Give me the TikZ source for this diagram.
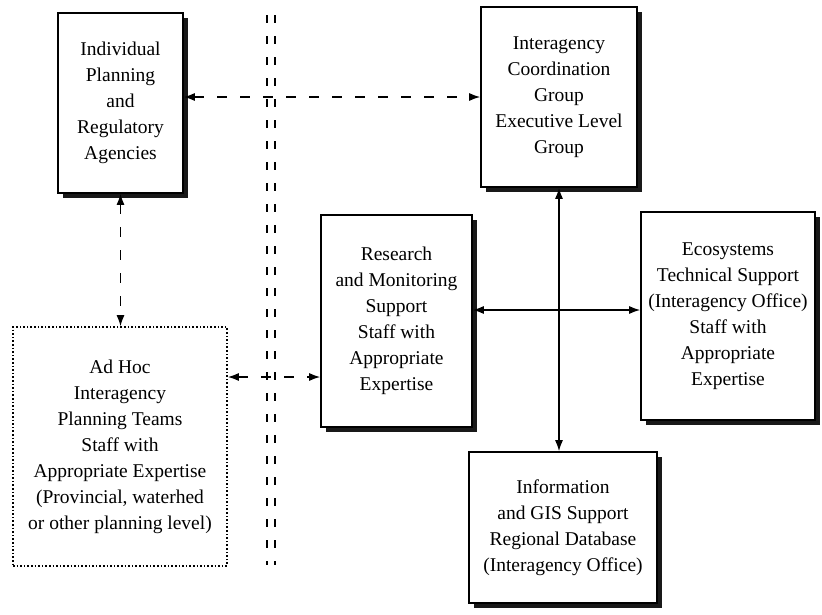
\documentclass[tikz,border=0pt]{standalone}
\usepackage{fontspec}
\setmainfont{Liberation Serif}
\usetikzlibrary{arrows.meta,shadows}

\begin{document}
\begin{tikzpicture}[
        x=1pt, y=-1pt,
        txt/.style={align=center, inner sep=0pt, font=\fontsize{19.5pt}{26pt}\selectfont},
        box/.style={txt, draw, line width=1.6pt, fill=white,
            drop shadow={shadow xshift=4.5pt, shadow yshift=-5pt, fill=black, opacity=0.9}},
        adhocbox/.style={txt, draw, line width=1.6pt, dotted},
        link/.style={line width=1.4pt, {Latex[length=11pt,width=8pt]}-{Latex[length=11pt,width=8pt]}},
        dlink/.style={link, dash pattern=on 10pt off 13pt},
        sep/.style={line width=1.6pt, dash pattern=on 8pt off 13pt}
    ]
    \useasboundingbox (0,0) rectangle (822,614);

    \node[box, minimum width=125pt, minimum height=180pt] (ind) at (120.5,103)
        {Individual\\Planning\\and\\Regulatory\\Agencies};
    \node[box, minimum width=156pt, minimum height=180pt] (icg) at (559,97)
        {Interagency\\Coordination\\Group\\Executive Level\\Group};
    \node[box, minimum width=151pt, minimum height=212pt] (rms) at (396.5,321)
        {Research\\and Monitoring\\Support\\Staff with\\Appropriate\\Expertise};
    \node[box, minimum width=174pt, minimum height=208pt] (ets) at (728,316)
        {Ecosystems\\Technical Support\\(Interagency Office)\\Staff with\\Appropriate\\Expertise};
    \node[box, minimum width=188pt, minimum height=151pt] (igs) at (563,527.5)
        {Information\\and GIS Support\\Regional Database\\(Interagency Office)};
    \node[adhocbox, minimum width=214pt, minimum height=239pt] (adhoc) at (120,446.5)
        {Ad Hoc\\Interagency\\Planning Teams\\Staff with\\Appropriate Expertise\\(Provincial, waterhed\\or other planning level)};

    \coordinate (rmsin) at ([yshift=-56pt]rms.west);
    \coordinate (etsin) at ([yshift=6pt]ets.west);

    \draw[sep] (267,15) -- (267,565);
    \draw[sep] (275,15) -- (275,565);

    \draw[dlink] (ind.east |- icg.west) -- (icg.west);
    \draw[dlink] (ind.south) -- (ind.south |- adhoc.north);
    \draw[dlink] (rmsin -| adhoc.east) -- (rmsin);
    \draw[link] (etsin -| rms.east) -- (etsin);
    \draw[link] (icg.south) -- (icg.south |- igs.north);
\end{tikzpicture}
\end{document}
